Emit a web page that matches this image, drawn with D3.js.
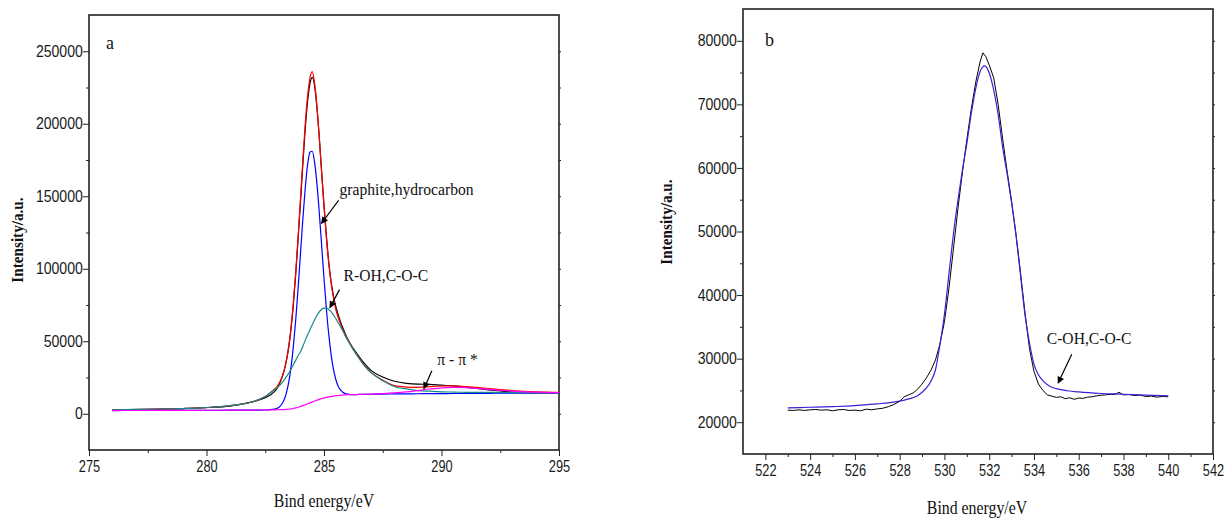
<!DOCTYPE html>
<html>
<head>
<meta charset="utf-8">
<script src="https://cdn.jsdelivr.net/npm/d3@7"></script>
<style>
  html, body { margin: 0; padding: 0; background: #fff; }
  svg { display: block; }
  .tick text { font-family: "Liberation Sans", Arial, sans-serif; font-size: 16px; fill: #1a1a1a; }
  .tick line { stroke: #222; stroke-width: 1; }
  .serif { font-family: "Liberation Serif", "Times New Roman", serif; fill: #111; }
</style>
</head>
<body>
<svg id="chart" width="1224" height="520"></svg>
<script>
// ---------- C 1s spectrum (panel a) ----------
const energyC = [276,277,278,279,280,281,281.5,282,282.5,282.9,
  283.0,283.1,283.2,283.3,283.4,283.5,283.6,283.7,283.8,283.9,
  284.0,284.1,284.2,284.3,284.4,284.5,284.6,284.7,284.8,284.9,
  285.0,285.1,285.2,285.3,285.4,285.5,285.6,285.7,285.8,285.9,
  286.0,286.25,286.5,286.75,287,
  287.5,288,288.5,289,289.5,290,290.5,291,291.5,292,292.5,293,293.5,294,294.5,295];

const rawC = [2800,2950,3200,3600,4300,5300,6600,8400,11000,15500,
  17500,20500,24500,29500,36500,46000,59000,76000,97000,121000,
  146000,172000,196000,215000,227500,232000,226000,211000,190500,167000,
  144000,123000,105000,91500,81500,74000,68500,63500,59300,55400,
  51700,44900,39200,34000,29900,
  25300,22400,21000,20400,20300,19700,19200,18400,17400,16500,15700,15000,14600,14300,14400,14500];

const envelopeC = [2700,2870,3170,3590,4260,5550,6700,8450,11900,17160,
  18620,21300,24850,29800,37000,46600,60000,77300,98300,122700,
  148400,175000,199700,218850,231500,236000,228000,212000,190000,166000,
  143000,122000,104000,90500,80000,72000,66500,62000,58000,54500,
  51360,44220,38150,32660,28500,
  23200,19350,18420,18200,18750,19140,19250,18800,18150,17420,16670,16030,15520,15160,14930,14800];

const graphiteC = [2200,2250,2300,2350,2400,2450,2500,2550,2600,3160,
  3720,4700,6550,9500,14400,21800,32500,47000,65300,87000,
  110600,134200,155300,171450,180400,181050,173400,158500,138550,116050,
  93400,72600,55050,41150,30900,23800,19200,16450,14800,13970,
  13560,13200,13300,13380,13450,
  13550,13650,13720,13800,13850,13900,13950,14000,14050,14100,14150,14200,14250,14300,14350,14400];

const hydroxylC = [2700,2870,3170,3590,4260,5550,6700,8450,11900,16700,
  17650,19400,21150,23200,25600,27900,30800,33900,37000,40200,
  42800,46400,50600,54250,57800,61450,64700,67900,70250,72050,
  72900,72900,71950,70450,68100,65700,62900,60150,57300,53800,
  50900,44200,38100,32580,28350,
  22850,18650,17120,16000,15550,15140,14950,14800,14750,14720,14670,14630,14620,14610,14630,14650];

const piC = [2200,2250,2300,2350,2400,2450,2500,2550,2600,2700,
  2750,2800,2850,2900,3000,3100,3300,3600,4000,4500,
  5000,5600,6200,6850,7500,8150,8800,9400,9950,10450,
  10900,11300,11650,11950,12200,12400,12600,12750,12900,13000,
  13100,13220,13350,13460,13600,
  13900,14350,15020,16000,17050,17900,18250,18000,17450,16800,16150,15600,15150,14850,14650,14550];

const ticksXC = [275, 280, 285, 290, 295];
const minorXC = [277.5, 282.5, 287.5, 292.5];
const ticksYC = [0, 50000, 100000, 150000, 200000, 250000];
const minorYC = [25000, 75000, 125000, 175000, 225000];

// ---------- O 1s spectrum (panel b) ----------
const energyOFit = [523,524,525,526,527,527.5,528,528.4,528.8,
  529.0,529.2,529.4,529.6,529.8,530.0,530.2,530.4,530.6,530.8,531.0,531.2,531.4,531.6,531.8,
  532.0,532.2,532.4,532.6,532.8,533.0,533.2,533.4,533.6,533.8,534.0,534.2,534.4,
  534.7,535.0,535.5,536.0,537,538,539,540];
const fitO = [22250,22350,22450,22600,22900,23050,23310,23660,24150,
  24710,25390,26480,28250,32210,36950,43260,49570,54840,59590,63820,68560,72530,75200,76050,
  74960,72260,68410,63260,59130,54520,49340,43120,36890,32500,29140,27480,26550,
  25640,25280,24950,24760,24520,24400,24250,24150];

const energyORaw = [523,523.25,523.5,523.75,524,524.25,524.5,524.75,525,525.25,525.5,525.75,526,526.25,526.5,526.75,527,527.25,527.5,527.75,
  528,528.2,528.4,528.6,528.8,529,529.2,529.4,529.6,529.8,530,530.2,530.4,530.6,530.8,531,531.2,531.4,531.6,
  531.72,531.85,
  532,532.2,532.4,532.6,532.8,533,533.2,533.4,533.6,533.8,534,534.2,534.4,534.6,534.8,535,535.2,535.4,535.6,535.8,
  536,536.2,536.4,536.6,536.8,537,537.2,537.4,537.6,537.8,538,
  538.25,538.5,538.75,539,539.25,539.5,539.75,540];
const rawO = [21900,21850,21950,21850,21950,22000,21900,21950,21800,21950,22000,21850,21900,21800,22050,21950,22100,22200,22450,22800,
  23300,24000,24300,24600,25200,26000,27000,28200,29800,32300,35800,41000,47200,53500,59200,64400,69300,73500,76800,
  78100,77500,
  76200,74200,70000,64600,59500,54800,49500,43500,37200,31600,28000,26000,25000,24300,24100,23900,24000,23700,23850,23600,
  23800,23750,23950,24000,24150,24250,24300,24400,24350,24700,24300,
  24350,24200,24250,24050,24100,23950,24050,24000];

const ticksXO = [522,524,526,528,530,532,534,536,538,540,542];
const minorXO = [523,525,527,529,531,533,535,537,539,541];
const ticksYO = [20000,30000,40000,50000,60000,70000,80000];
const minorYO = [25000,35000,45000,55000,65000,75000];

// annotation texts and arrow ends, in data units
const notesC = [
  { text: "graphite,hydrocarbon", x: 285.66, y: 154700, from: [285.62, 147100], to: [284.89, 131200] },
  { text: "R-OH,C-O-C", x: 285.83, y: 95300, from: [285.66, 85600], to: [285.25, 73200] },
  { text: "\u03c0 - \u03c0 *", x: 289.82, y: 37300, from: [289.59, 29700], to: [289.25, 17300] }
];
const notesO = [
  { text: "C-OH,C-O-C", x: 534.57, y: 33220, from: [535.69, 30700], to: [535.08, 26150] }
];

const svg = d3.select("#chart");

svg.append("defs").append("marker")
  .attr("id", "head")
  .attr("viewBox", "0 0 10 10")
  .attr("refX", 9).attr("refY", 5)
  .attr("markerWidth", 9).attr("markerHeight", 7)
  .attr("markerUnits", "userSpaceOnUse")
  .attr("orient", "auto")
  .append("path").attr("d", "M0,0 L10,5 L0,10 Z").attr("fill", "#000");

function panel(cfg) {
  const g = svg.append("g");
  const x = d3.scaleLinear().domain(cfg.xDomain).range([cfg.left, cfg.right]);
  const y = d3.scaleLinear().domain(cfg.yDomain).range([cfg.bottom, cfg.top]);

  // minor ticks
  g.append("g").attr("transform", `translate(0,${cfg.bottom})`)
    .call(d3.axisBottom(x).tickValues(cfg.minorX).tickSize(3).tickFormat(""))
    .call(s => s.select(".domain").remove());
  g.append("g").attr("transform", `translate(${cfg.left},0)`)
    .call(d3.axisLeft(y).tickValues(cfg.minorY).tickSize(3).tickFormat(""))
    .call(s => s.select(".domain").remove());
  // major ticks with labels (narrowed glyphs)
  g.append("g").attr("transform", `translate(0,${cfg.bottom})`)
    .call(d3.axisBottom(x).tickValues(cfg.ticksX).tickSize(6).tickPadding(5).tickFormat(d3.format("d")))
    .call(s => s.select(".domain").remove())
    .call(s => s.selectAll(".tick text").attr("transform", "scale(0.8,1)"));
  g.append("g").attr("transform", `translate(${cfg.left},0)`)
    .call(d3.axisLeft(y).tickValues(cfg.ticksY).tickSize(6).tickPadding(1).tickFormat(d3.format("d")))
    .call(s => s.select(".domain").remove())
    .call(s => s.selectAll(".tick text").attr("transform", "scale(0.88,1)"));
  // small ticks on the right frame edge
  g.append("g").attr("transform", `translate(${cfg.right},0)`)
    .call(d3.axisRight(y).tickValues(cfg.ticksY.concat(cfg.minorY)).tickSize(2).tickFormat(""))
    .call(s => s.select(".domain").remove());

  // frame
  g.append("rect")
    .attr("x", cfg.left).attr("y", cfg.top)
    .attr("width", cfg.right - cfg.left).attr("height", cfg.bottom - cfg.top)
    .attr("fill", "none").attr("stroke", "#222").attr("stroke-width", 1.6);

  // curves
  cfg.series.forEach(s => {
    const line = d3.line()
      .x((d, i) => x(s.energy[i]))
      .y(d => y(d))
      .curve(s.smooth ? d3.curveMonotoneX : d3.curveLinear);
    g.append("path")
      .datum(s.values)
      .attr("fill", "none")
      .attr("stroke", s.color)
      .attr("stroke-width", s.width || 1.2)
      .attr("stroke-linejoin", "round")
      .attr("d", line);
  });

  // annotations
  cfg.notes.forEach(n => {
    g.append("line")
      .attr("x1", x(n.from[0])).attr("y1", y(n.from[1]))
      .attr("x2", x(n.to[0])).attr("y2", y(n.to[1]))
      .attr("stroke", "#000").attr("stroke-width", 1.2)
      .attr("marker-end", "url(#head)");
    g.append("text").attr("class", "serif")
      .attr("transform", `translate(${x(n.x)},${y(n.y)}) scale(0.92,1)`)
      .attr("dominant-baseline", "central")
      .attr("font-size", 17)
      .text(n.text);
  });

  // panel letter
  g.append("text").attr("class", "serif")
    .attr("x", cfg.letterPos[0]).attr("y", cfg.letterPos[1])
    .attr("dominant-baseline", "central").attr("font-size", 18)
    .text(cfg.letter);

  // axis titles
  g.append("text").attr("class", "serif")
    .attr("transform", `translate(${cfg.yTitlePos[0]},${cfg.yTitlePos[1]}) rotate(-90) scale(0.95,1)`)
    .attr("text-anchor", "middle").attr("dominant-baseline", "central")
    .attr("font-size", 16).attr("font-weight", "bold")
    .text("Intensity/a.u.");
  g.append("text").attr("class", "serif")
    .attr("transform", `translate(${cfg.xTitlePos[0]},${cfg.xTitlePos[1]}) scale(0.88,1)`)
    .attr("text-anchor", "middle").attr("dominant-baseline", "central")
    .attr("font-size", 18)
    .text("Bind energy/eV");
}

panel({
  left: 89, right: 559, top: 15, bottom: 450,
  xDomain: [275, 295], yDomain: [-25000, 275000],
  ticksX: ticksXC, minorX: minorXC, ticksY: ticksYC, minorY: minorYC,
  series: [
    { energy: energyC, values: rawC, color: "#000000", smooth: true },
    { energy: energyC, values: envelopeC, color: "#ff0000", smooth: true },
    { energy: energyC, values: graphiteC, color: "#0000ff", smooth: true },
    { energy: energyC, values: hydroxylC, color: "#138a8a", smooth: true },
    { energy: energyC, values: piC, color: "#ff00ff", smooth: true }
  ],
  notes: notesC,
  letter: "a", letterPos: [106, 43],
  yTitlePos: [17, 240], xTitlePos: [324, 501]
});

panel({
  left: 743, right: 1213, top: 9, bottom: 454,
  xDomain: [521, 542], yDomain: [15000, 85000],
  ticksX: ticksXO, minorX: minorXO, ticksY: ticksYO, minorY: minorYO,
  series: [
    { energy: energyORaw, values: rawO, color: "#000000", smooth: false, width: 1 },
    { energy: energyOFit, values: fitO, color: "#3f1fd6", smooth: true }
  ],
  notes: notesO,
  letter: "b", letterPos: [765, 40],
  yTitlePos: [666, 222], xTitlePos: [977, 508]
});
</script>
</body>
</html>
